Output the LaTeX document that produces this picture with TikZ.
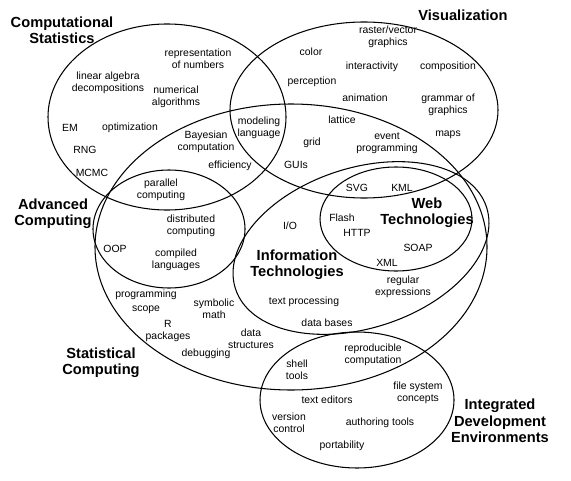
\documentclass[tikz,border=0pt]{standalone}
\usepackage{fontspec}
\setmainfont{Liberation Sans}
\usepackage{tikz}
\usetikzlibrary{positioning}

\begin{document}
\begin{tikzpicture}[
 x=0.03cm,y=-0.03cm,
 region/.style={draw=black,line width=.9pt},
 item/.style={align=center,inner sep=0pt,font=\fontsize{8.9}{10.5}\selectfont},
 title/.style={align=center,inner sep=0pt,font=\fontsize{12.5}{14}\selectfont\bfseries}
]
 \useasboundingbox (0,0) rectangle (571,480);
 % the seven areas
 \draw[region] (167,117) ellipse [x radius=119,y radius=93];
 \draw[region] (364,110) ellipse [x radius=134,y radius=88];
 \draw[region] (291,247) ellipse [x radius=196,y radius=143];
 \draw[region] (169,229) ellipse [x radius=76,y radius=59];
 \draw[region,shift={(361,248)},rotate=18] (0,0) ellipse [x radius=132,y radius=80];
 \draw[region] (396,219) ellipse [x radius=76,y radius=52];
 \draw[region] (357,400) ellipse [x radius=97,y radius=68];
 % area titles
 \node[title] (compstat) at (62,30) {Computational\\Statistics};
 \node[title] (visual) at (463,15) {Visualization};
 \node[title] (advcomp) at (53,214) {Advanced\\Computing};
 \node[title] (statcomp) at (101,363) {Statistical\\Computing};
 \node[title] (infotech) at (297,265) {Information\\Technologies};
 \node[title] (webtech) at (427,213) {Web\\Technologies};
 \node[title,text depth=0pt] (ide) at (500,421) {Integrated\\Development\\Environments};
 % topics
 \node[item] (repr) at (198,59) {representation\\of numbers};
 \node[item] (linalg) at (108,83) {linear algebra\\decompositions};
 \node[item] (numalg) at (176,97) {numerical\\algorithms};
 \node[item] (em) at (70,128) {EM};
 \node[item] (optim) at (130,128) {optimization};
 \node[item] (rng) at (85,150) {RNG};
 \node[item] (mcmc) at (92,173) {MCMC};
 \node[item] (bayes) at (206,142) {Bayesian\\computation};
 \node[item] (effic) at (230,166) {efficiency};
 \node[item] (modlang) at (259,128) {modeling\\language};
 \node[item] (raster) at (388,37) {raster/vector\\graphics};
 \node[item] (color) at (311,52) {color};
 \node[item] (interact) at (372,67) {interactivity};
 \node[item] (compos) at (448,67) {composition};
 \node[item] (percep) at (312,82) {perception};
 \node[item] (anim) at (365,98) {animation};
 \node[item] (grammar) at (448,105) {grammar of\\graphics};
 \node[item] (lattice) at (342,120) {lattice};
 \node[item] (event) at (387,143) {event\\programming};
 \node[item] (maps) at (448,135) {maps};
 \node[item] (grid) at (312,143) {grid};
 \node[item] (guis) at (296,165) {GUIs};
 \node[item] (parallel) at (161,190) {parallel\\computing};
 \node[item] (distrib) at (191,226) {distributed\\computing};
 \node[item] (oop) at (115,249) {OOP};
 \node[item] (compiled) at (176,260) {compiled\\languages};
 \node[item] (progr) at (146,295) {programming};
 \node[item] (scope) at (146,310) {scope};
 \node[item] (symb) at (214,309) {symbolic\\math};
 \node[item] (rpack) at (168,331) {R\\packages};
 \node[item] (datastr) at (251,339) {data\\structures};
 \node[item] (debug) at (206,354) {debugging};
 \node[item] (svg) at (357,188) {SVG};
 \node[item] (kml) at (402,188) {KML};
 \node[item] (flash) at (342,218) {Flash};
 \node[item] (http) at (357,233) {HTTP};
 \node[item] (io) at (290,226) {I/O};
 \node[item] (soap) at (418,248) {SOAP};
 \node[item] (xml) at (387,263) {XML};
 \node[item] (regex) at (403,287) {regular\\expressions};
 \node[item] (textproc) at (304,302) {text processing};
 \node[item] (database) at (327,323) {data bases};
 \node[item] (shell) at (297,370) {shell\\tools};
 \node[item] (repro) at (373,355) {reproducible\\computation};
 \node[item] (filesys) at (418,393) {file system\\concepts};
 \node[item] (texted) at (327,400) {text editors};
 \node[item] (version) at (289,423) {version\\control};
 \node[item] (author) at (380,423) {authoring tools};
 \node[item] (port) at (342,446) {portability};
\end{tikzpicture}
\end{document}
